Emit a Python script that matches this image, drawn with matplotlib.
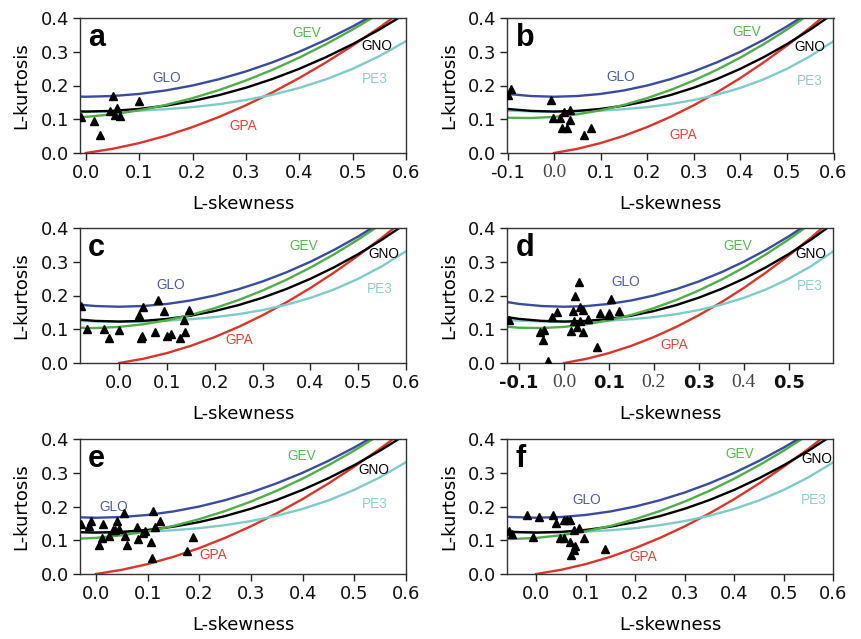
import matplotlib
matplotlib.use("Agg")
import matplotlib.pyplot as plt
import numpy as np

plt.rcParams['font.family'] = ['DejaVu Sans']

# ---- theoretical L-moment ratio curves ----
tau3_grid = [-0.15, -0.10, -0.05, 0.00, 0.05, 0.10, 0.15, 0.20, 0.25, 0.30,
             0.35, 0.40, 0.45, 0.50, 0.55, 0.60]
glo_t4 = [0.1854, 0.1750, 0.1688, 0.1667, 0.1688, 0.1750, 0.1854, 0.2000,
          0.2188, 0.2417, 0.2688, 0.3000, 0.3354, 0.3750, 0.4188, 0.4667]
gev_t4 = [0.1097, 0.1045, 0.1036, 0.1070, 0.1147, 0.1265, 0.1425, 0.1626,
          0.1867, 0.2148, 0.2468, 0.2827, 0.3224, 0.3659, 0.4130, 0.4638]
gno_t4 = [0.1403, 0.1306, 0.1248, 0.1228, 0.1248, 0.1306, 0.1403, 0.1540,
          0.1717, 0.1935, 0.2194, 0.2495, 0.2839, 0.3226, 0.3657, 0.4134]
pe3_t4 = [0.1297, 0.1255, 0.1232, 0.1224, 0.1232, 0.1255, 0.1297, 0.1359,
          0.1448, 0.1569, 0.1727, 0.1929, 0.2182, 0.2494, 0.2869, 0.3314]
gpa_t3 = [0.00, 0.05, 0.10, 0.15, 0.20, 0.25, 0.30, 0.35, 0.40, 0.45, 0.50, 0.55, 0.60]
gpa_t4 = [0.0000, 0.0124, 0.0294, 0.0510, 0.0769, 0.1071, 0.1415, 0.1799,
          0.2222, 0.2684, 0.3182, 0.3716, 0.4286]

# ---- sample L-moment ratios per panel ----
a_t3 = [-0.010, 0.016, 0.027, 0.050, 0.045, 0.059, 0.054, 0.064, 0.099]
a_t4 = [0.108, 0.094, 0.052, 0.170, 0.124, 0.134, 0.112, 0.109, 0.153]

b_t3 = [-0.099, -0.092, -0.006, -0.003, 0.013, 0.022, 0.035, 0.017, 0.027, 0.034, 0.065, 0.080]
b_t4 = [0.173, 0.190, 0.158, 0.104, 0.103, 0.122, 0.126, 0.074, 0.074, 0.097, 0.052, 0.074]

c_t3 = [-0.080, -0.067, -0.031, -0.021, -0.001, 0.042, 0.050, 0.045, 0.048, 0.081,
        0.094, 0.074, 0.099, 0.109, 0.128, 0.135, 0.138, 0.147]
c_t4 = [0.168, 0.102, 0.102, 0.074, 0.097, 0.141, 0.166, 0.074, 0.079, 0.188,
        0.153, 0.092, 0.079, 0.087, 0.074, 0.126, 0.092, 0.158]

d_t3 = [-0.123, -0.054, -0.044, -0.047, -0.036, -0.028, -0.016, 0.016, 0.019, 0.024,
        0.022, 0.029, 0.033, 0.036, 0.036, 0.043, 0.042, 0.053, 0.073, 0.080,
        0.100, 0.100, 0.104, 0.122]
d_t4 = [0.128, 0.092, 0.097, 0.069, 0.005, 0.135, 0.151, 0.094, 0.155, 0.200,
        0.123, 0.106, 0.240, 0.165, 0.125, 0.158, 0.092, 0.131, 0.047, 0.148,
        0.148, 0.141, 0.190, 0.153]

e_t3 = [-0.029, -0.013, -0.009, 0.014, 0.006, 0.012, 0.025, 0.032, 0.037, 0.041,
        0.045, 0.055, 0.057, 0.060, 0.079, 0.082, 0.090, 0.095, 0.106, 0.108,
        0.111, 0.115, 0.124, 0.177, 0.188]
e_t4 = [0.148, 0.141, 0.157, 0.147, 0.086, 0.106, 0.114, 0.131, 0.131, 0.157,
        0.133, 0.182, 0.113, 0.086, 0.139, 0.104, 0.121, 0.126, 0.096, 0.046,
        0.187, 0.140, 0.158, 0.068, 0.109]

f_t3 = [-0.055, -0.048, -0.007, -0.018, 0.006, 0.033, 0.040, 0.048, 0.057, 0.056,
        0.063, 0.069, 0.069, 0.077, 0.086, 0.079, 0.077, 0.070, 0.096, 0.138]
f_t4 = [0.128, 0.118, 0.109, 0.175, 0.170, 0.175, 0.152, 0.108, 0.108, 0.160,
        0.160, 0.160, 0.096, 0.131, 0.136, 0.083, 0.071, 0.056, 0.108, 0.073]

panel_letters = ['a', 'b', 'c', 'd', 'e', 'f']
xlims = [(-0.011, 0.6), (-0.1, 0.6), (-0.082, 0.6), (-0.126, 0.6), (-0.031, 0.6), (-0.058, 0.6)]
xtick_vals = [
    [0.0, 0.1, 0.2, 0.3, 0.4, 0.5, 0.6],
    [-0.1, 0.0, 0.1, 0.2, 0.3, 0.4, 0.5, 0.6],
    [0.0, 0.1, 0.2, 0.3, 0.4, 0.5, 0.6],
    [-0.1, 0.0, 0.1, 0.2, 0.3, 0.4, 0.5],
    [0.0, 0.1, 0.2, 0.3, 0.4, 0.5, 0.6],
    [0.0, 0.1, 0.2, 0.3, 0.4, 0.5, 0.6],
]
xtick_labels = [
    ['0.0', '0.1', '0.2', '0.3', '0.4', '0.5', '0.6'],
    ['-0.1', '0.0', '0.1', '0.2', '0.3', '0.4', '0.5', '0.6'],
    ['0.0', '0.1', '0.2', '0.3', '0.4', '0.5', '0.6'],
    ['-0.1', '0.0', '0.1', '0.2', '0.3', '0.4', '0.5'],
    ['0.0', '0.1', '0.2', '0.3', '0.4', '0.5', '0.6'],
    ['0.0', '0.1', '0.2', '0.3', '0.4', '0.5', '0.6'],
]
# which tick labels appear in a serif face in the original
serif_ticks = [[], ['0.0'], [], ['0.0', '0.2', '0.4'], [], []]
bold_ticks = [False, False, False, True, False, False]
ytick_vals = [0.0, 0.1, 0.2, 0.3, 0.4]
ytick_labels = ['0.0', '0.1', '0.2', '0.3', '0.4']

# curve label positions (data coords) per panel: GLO, GEV, GNO, PE3, GPA
label_pos = [
    [(0.151, 0.223), (0.414, 0.356), (0.545, 0.317), (0.542, 0.218), (0.295, 0.081)],
    [(0.144, 0.226), (0.414, 0.359), (0.549, 0.314), (0.550, 0.213), (0.277, 0.054)],
    [(0.107, 0.232), (0.387, 0.346), (0.553, 0.324), (0.546, 0.219), (0.251, 0.069)],
    [(0.137, 0.240), (0.386, 0.348), (0.550, 0.324), (0.547, 0.229), (0.245, 0.052)],
    [(0.034, 0.198), (0.398, 0.350), (0.537, 0.307), (0.540, 0.208), (0.227, 0.056)],
    [(0.102, 0.218), (0.411, 0.355), (0.566, 0.341), (0.560, 0.218), (0.216, 0.051)],
]

pts = [(a_t3, a_t4), (b_t3, b_t4), (c_t3, c_t4), (d_t3, d_t4), (e_t3, e_t4), (f_t3, f_t4)]

curve_names = ['GLO', 'GEV', 'GNO', 'PE3', 'GPA']
curve_colors = ['#3b4c9c', '#4fae48', '#000000', '#7fcbc7', '#d8362c']
label_colors = ['#4b5b9f', '#5cb553', '#000000', '#8ed0cc', '#d9453a']

fig = plt.figure(figsize=(8.62, 6.39), dpi=100)
W, H = 862.0, 639.0
lefts = [80, 507.5]
tops = [18, 228, 439]
aw, ah = 326, 135

for i in range(6):
    row, col = divmod(i, 2)
    l = lefts[col]
    t = tops[row]
    ax = fig.add_axes([l / W, 1 - (t + ah) / H, aw / W, ah / H])
    x_curves = [tau3_grid, tau3_grid, tau3_grid, tau3_grid, gpa_t3]
    y_curves = [glo_t4, gev_t4, gno_t4, pe3_t4, gpa_t4]
    order = [4, 3, 2, 1, 0]
    for k in order:
        ax.plot(x_curves[k], y_curves[k], color=curve_colors[k], lw=1.7, zorder=2)
    for k in range(5):
        x, y = label_pos[i][k]
        ax.text(x, y, curve_names[k], color=label_colors[k], fontsize=9.8,
                family='Liberation Sans', ha='center', va='center', zorder=3)
    ax.plot(pts[i][0], pts[i][1], linestyle='none', marker='^', ms=6,
            color='black', zorder=4)
    ax.set_xlim(*xlims[i])
    ax.set_ylim(0.0, 0.4)
    ax.set_xticks(xtick_vals[i])
    ax.set_xticklabels(xtick_labels[i])
    ax.set_yticks(ytick_vals)
    ax.set_yticklabels(ytick_labels)
    ax.tick_params(direction='out', length=5, width=1, labelsize=13, pad=3,
                   colors='#222222', labelcolor='#111111')
    for lab in ax.get_xticklabels():
        if lab.get_text() in serif_ticks[i]:
            lab.set_fontfamily('Liberation Serif')
            lab.set_color('#444444')
            lab.set_fontsize(14)
        elif bold_ticks[i]:
            lab.set_fontweight('bold')
    for sp in ax.spines.values():
        sp.set_linewidth(1.0)
        sp.set_color('#333333')
    ax.set_xlabel('L-skewness', fontsize=13, labelpad=9)
    ax.set_ylabel('L-kurtosis', fontsize=13, labelpad=7)
    ax.text(0.025, 0.795, panel_letters[i], transform=ax.transAxes,
            fontsize=22, fontweight='bold', family='Liberation Sans',
            ha='left', va='baseline', zorder=5)

fig.savefig('out.png', dpi=100)
